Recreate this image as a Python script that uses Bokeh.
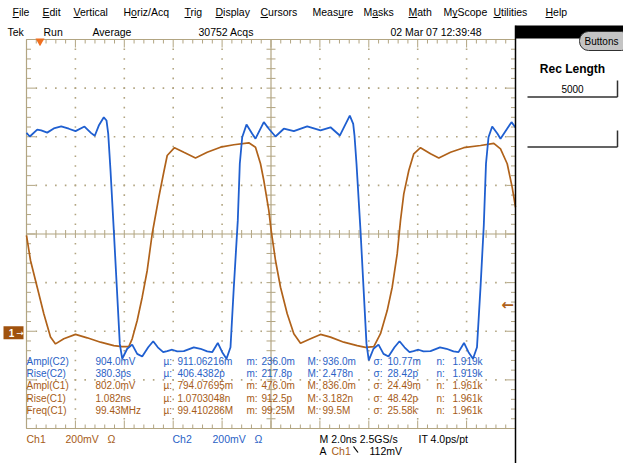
import numpy as np
from bokeh.plotting import figure
from bokeh.models import Range1d
from bokeh.core.properties import value
from bokeh.embed import file_html
from bokeh.resources import INLINE

# ---------------- data ----------------
# Channel 1 (orange) : time in ns, amplitude in mV
c1_time_ns = [-10.00, -9.836, -9.562, -9.292, -9.018, -8.814, -8.474, -7.996, -7.517, -6.973,
              -6.429, -6.086, -5.816, -5.677, -5.472, -5.268, -5.063, -4.859, -4.589, -4.384,
              -4.245, -3.947, -3.566, -3.088, -2.609, -2.065, -1.521, -0.908, -0.634, -0.429,
              -0.294, -0.090, 0.008, 0.184, 0.389, 0.663, 0.933, 1.207, 1.616, 2.025,
              2.434, 2.978, 3.526, 3.865, 4.205, 4.479, 4.753, 4.957, 5.162, 5.297,
              5.431, 5.636, 5.840, 6.115, 6.524, 6.863, 7.342, 7.885, 8.569, 9.112,
              9.387, 9.661, 9.865, 10.00]
c1_mv = [400, 297, 187, 78, -18, -46, -25, -7, -21, -39,
         -53, -57, -57, -25, 50, 146, 256, 407, 557, 661,
         729, 761, 742, 719, 742, 763, 773, 781, 763, 695,
         626, 503, 420, 297, 187, 78, -4, -43, -25, -7,
         -18, -39, -53, -60, -57, -4, 91, 187, 325, 462,
         571, 667, 736, 761, 736, 719, 742, 761, 770, 779,
         756, 695, 598, 516]

# Channel 2 (blue) : time in ns, amplitude in mV
c2_time_ns = [-10.00, -9.865, -9.562, -9.399, -9.153, -8.884, -8.581, -8.270, -7.996, -7.628,
              -7.354, -7.207, -7.043, -6.838, -6.728, -6.658, -6.564, -6.429, -6.306, -6.184,
              -6.086, -5.881, -5.677, -5.472, -5.268, -5.022, -4.818, -4.630, -4.409, -4.245,
              -4.041, -3.836, -3.566, -3.157, -2.883, -2.609, -2.405, -2.176, -1.996, -1.820,
              -1.656, -1.521, -1.358, -1.276, -1.178, -1.002, -0.769, -0.634, -0.294, -0.090,
              0.184, 0.524, 0.933, 1.481, 2.025, 2.434, 2.814, 3.018, 3.223, 3.362,
              3.415, 3.497, 3.661, 3.783, 3.906, 4.000, 4.192, 4.397, 4.601, 4.806,
              5.051, 5.256, 5.460, 5.665, 5.828, 6.033, 6.237, 6.524, 6.912, 7.178,
              7.464, 7.669, 7.894, 8.078, 8.262, 8.425, 8.569, 8.703, 8.793, 8.896,
              9.047, 9.264, 9.387, 9.836, 10.00]
c2_mv = [896, 881, 909, 906, 897, 914, 923, 913, 903, 922,
         895, 884, 926, 960, 947, 893, 741, 494, 261, 28,
         -33, 8, 25, -13, -24, 14, 39, 14, -6, -2,
         4, -3, -2, 14, 8, -3, -6, 32, -6, -33,
         14, 261, 536, 769, 878, 930, 892, 872, 940, 913,
         881, 913, 903, 923, 906, 919, 885, 926, 967, 933,
         885, 769, 494, 261, 28, -40, 8, 25, -13, -24,
         14, 39, 14, -6, -2, 4, -3, -2, 14, 8,
         -3, -6, 32, -6, -33, 14, 261, 515, 769, 878,
         922, 892, 872, 940, 918]

meas_names = ["Ampl(C2)", "Rise(C2)", "Ampl(C1)", "Rise(C1)", "Freq(C1)"]
meas_value = ["904.0mV", "380.3ps", "802.0mV", "1.082ns", "99.43MHz"]
meas_mean = ["911.06216m", "406.4382p", "794.07695m", "1.0703048n", "99.410286M"]
meas_min = ["236.0m", "217.8p", "476.0m", "912.5p", "99.25M"]
meas_max = ["936.0m", "2.478n", "836.0m", "3.182n", "99.5M"]
meas_sigma = ["10.77m", "28.42p", "24.49m", "48.42p", "25.58k"]
meas_count = ["1.919k", "1.919k", "1.961k", "1.961k", "1.961k"]
meas_source = ["C2", "C2", "C1", "C1", "C1"]

menu_items = ["File", "Edit", "Vertical", "Horiz/Acq", "Trig", "Display", "Cursors",
              "Measure", "Masks", "Math", "MyScope", "Utilities", "Help"]
menu_hotkey = [0, 0, 0, 1, 0, 0, 0, 4, 1, 0, 1, 0, 0]

# scope settings
TDIV_NS = 2.0
VDIV_MV = 200.0
C1_POS_DIV = -2.03
C2_POS_DIV = -2.40
TRIG_MV = 112.0

# ---------------- layout ----------------
W, H = 623, 463
X0PX, PX_PER_NS = 270.5, 24.45
Y0PX, PX_PER_DIV = 233.5, 48.625


def X(px):
    return (px - X0PX) / PX_PER_NS


def Y(py):
    return (Y0PX - py) / PX_PER_DIV


BLUE = "#1f5fd0"
BLUE_T = "#2a62c6"
ORANGE = "#b0621a"
ORANGE_T = "#a65b16"
GRAT = "#b2a582"
FONT = value("Liberation Sans")

p = figure(width=W, height=H, x_range=Range1d(X(0), X(W)), y_range=Range1d(Y(H), Y(0)),
           output_backend="svg", toolbar_location=None,
           x_axis_location=None, y_axis_location=None, min_border=0,
           outline_line_color=None, background_fill_color="white",
           border_fill_color="white")
p.grid.visible = False
p.extra_y_ranges = {
    "c1": Range1d((Y(H) - C1_POS_DIV) * VDIV_MV, (Y(0) - C1_POS_DIV) * VDIV_MV),
    "c2": Range1d((Y(H) - C2_POS_DIV) * VDIV_MV, (Y(0) - C2_POS_DIV) * VDIV_MV),
}

sx = 1.0 / PX_PER_NS
sy = 1.0 / PX_PER_DIV
XL, XR = -5 * TDIV_NS, 5 * TDIV_NS
YB, YT = -4.0, 4.0

# ---------------- graticule ----------------
min_x = np.round(np.arange(XL, XR + 1e-9, TDIV_NS / 5), 6)
min_y = np.round(np.arange(YB, YT + 1e-9, 0.2), 6)
maj_x_flag = np.isclose(np.mod(min_x, TDIV_NS), 0) | np.isclose(np.mod(min_x, TDIV_NS), TDIV_NS)
maj_y_flag = np.isclose(np.mod(min_y, 1.0), 0) | np.isclose(np.mod(min_y, 1.0), 1.0)

p.multi_line(xs=[[XL, XL], [XL, XR], [XL, XR], [0, 0], [XL, XR]],
             ys=[[YB, YT], [YT, YT], [YB, YB], [YB, YT], [0, 0]],
             line_color=GRAT, line_width=1.2)
# center cross ticks
p.segment(x0=min_x, y0=np.full(len(min_x), -4 * sy), x1=min_x, y1=np.full(len(min_x), 4 * sy),
          line_color=GRAT, line_width=1)
p.segment(x0=np.full(len(min_y), -4.5 * sx), y0=min_y, x1=np.full(len(min_y), 4.5 * sx), y1=min_y,
          line_color=GRAT, line_width=1)
# edge ticks
lx = np.where(maj_x_flag, 8, 4)
ly = np.where(maj_y_flag, 9, 4.5)
p.segment(x0=min_x, y0=np.full(len(min_x), YT), x1=min_x, y1=YT - lx * sy, line_color=GRAT, line_width=1)
p.segment(x0=min_x, y0=np.full(len(min_x), YB), x1=min_x, y1=YB + lx * sy, line_color=GRAT, line_width=1)
p.segment(x0=np.full(len(min_y), XL), y0=min_y, x1=XL + ly * sx, y1=min_y, line_color=GRAT, line_width=1)
p.segment(x0=np.full(len(min_y), XR), y0=min_y, x1=XR - ly * sx, y1=min_y, line_color=GRAT, line_width=1)
# dotted major grid lines
dx, dy = [], []
for gx in np.arange(XL + TDIV_NS, XR - 1e-9, TDIV_NS):
    if abs(gx) < 1e-9:
        continue
    for yy in min_y[1:-1]:
        if abs(yy) > 1e-9:
            dx.append(gx); dy.append(yy)
for gy in np.arange(YB + 1, YT - 1e-9, 1.0):
    if abs(gy) < 1e-9:
        continue
    for xx in min_x[1:-1]:
        if abs(xx) > 1e-9:
            dx.append(xx); dy.append(gy)
p.scatter(dx, dy, marker="square", size=1.6, fill_color=GRAT, line_color=None)

# ---------------- waveforms ----------------
p.line(c1_time_ns, c1_mv, y_range_name="c1", line_color=ORANGE, line_width=1.7)
p.line(c2_time_ns, c2_mv, y_range_name="c2", line_color=BLUE, line_width=1.8)


def txt(px, py, s, color="black", size=10, style="normal", align="left"):
    p.text(x=[X(px)], y=[Y(py)], text=[s], text_color=color, text_font=FONT,
           text_font_size=f"{size}px", text_font_style=style, text_align=align,
           text_baseline="middle")


# ---------------- measurement table ----------------
row_y = [360.7, 373.0, 385.4, 397.8, 410.4]
for i in range(5):
    col = BLUE_T if meas_source[i] == "C2" else ORANGE_T
    yy = row_y[i]
    txt(26, yy, meas_names[i], col)
    txt(95, yy, meas_value[i], col)
    txt(163, yy, "\u00b5:", col)
    txt(177, yy, meas_mean[i], col)
    txt(246, yy, "m:", col)
    txt(261, yy, meas_min[i], col)
    txt(307, yy, "M:", col)
    txt(322, yy, meas_max[i], col)
    txt(373, yy, "\u03c3:", col)
    txt(387, yy, meas_sigma[i], col)
    txt(436, yy, "n:", col)
    txt(452, yy, meas_count[i], col)

# ---------------- markers ----------------
# channel 1 ground marker (drawn at 0 mV of channel 1)
half_mv = 6.5 * sy * VDIV_MV
p.quad(left=[X(3)], right=[X(23)], bottom=[-half_mv], top=[half_mv], y_range_name="c1",
       fill_color="#a0520e", line_color=None)
p.text(x=[X(11)], y=[0], y_range_name="c1", text=["1"], text_color="white",
       text_font=FONT, text_font_size="10px", text_font_style="bold",
       text_align="center", text_baseline="middle")
p.text(x=[X(19.5)], y=[0], y_range_name="c1", text=["\u2192"], text_color="white",
       text_font=value("DejaVu Sans"), text_font_size="9px", text_align="center",
       text_baseline="middle")
# trigger level arrow (right side)
p.text(x=[X(507)], y=[TRIG_MV], y_range_name="c1", text=["\u2190"], text_color=ORANGE,
       text_font=value("DejaVu Sans"), text_font_size="15px", text_font_style="bold",
       text_align="center", text_baseline="middle")
# trigger position marker (top)
p.scatter([X(39.5)], [Y(40.5)], marker="inverted_triangle", size=9,
          fill_color="#f07020", line_color=None)

# ---------------- menu & status ----------------
menu_x = [12, 42, 73, 123, 184, 215, 260, 312, 363, 408, 443, 493, 545]
cw = {"F": .611, "E": .667, "V": .667, "H": .722, "o": .556, "T": .611, "D": .722,
      "C": .722, "M": .833, "e": .556, "a": .556, "s": .5, "y": .5, "U": .722}
MS = 10.5
ux0, ux1, uy = [], [], []
for name, mx, k in zip(menu_items, menu_x, menu_hotkey):
    txt(mx, 11, name, "black", MS)
    off = sum(cw.get(c, .55) for c in name[:k]) * MS
    w = cw.get(name[k], .55) * MS
    ux0.append(X(mx + off)); ux1.append(X(mx + off + w)); uy.append(Y(17))
p.segment(x0=ux0, y0=uy, x1=ux1, y1=uy, line_color="black", line_width=1)

txt(7, 31, "Tek", "black", MS)
txt(43, 31, "Run", "black", MS)
txt(92, 31, "Average", "black", MS)
txt(198, 31, "30752 Acqs", "black", MS)
txt(390, 31, "02 Mar 07 12:39:48", "black", MS)

# bottom channel readouts
txt(26, 438, "Ch1", ORANGE_T, MS)
txt(65, 438, "200mV", ORANGE_T, MS)
txt(107, 438, "\u03a9", ORANGE_T, MS)
txt(172, 438, "Ch2", BLUE_T, MS)
txt(212, 438, "200mV", BLUE_T, MS)
txt(254, 438, "\u03a9", BLUE_T, MS)
txt(319, 438, "M 2.0ns 2.5GS/s", "black", MS)
txt(418, 438, "IT 4.0ps/pt", "black", MS)
txt(319, 450, "A", "black", MS)
txt(331, 450, "Ch1", ORANGE_T, MS)
p.segment(x0=[X(353)], y0=[Y(446)], x1=[X(357.5)], y1=[Y(452)], line_color="black", line_width=1.2)
txt(369, 450, "112mV", "black", MS)

# ---------------- right-hand panel ----------------
p.quad(left=[X(515)], right=[X(W)], bottom=[Y(38)], top=[Y(25)], fill_color="black", line_color=None)
p.segment(x0=[X(515)], y0=[Y(25)], x1=[X(515)], y1=[Y(H)], line_color="black", line_width=1.5)
p.quad(left=[X(579)], right=[X(630)], bottom=[Y(50)], top=[Y(31)], border_radius=9,
       fill_color="#c4c4c4", line_color="#303030", line_width=1)
txt(601, 40.5, "Buttons", "black", 10, "normal", "center")
txt(572, 68, "Rec Length", "black", 12, "bold", "center")
txt(572, 88, "5000", "black", 10, "normal", "center")
p.multi_line(xs=[[X(527), X(617)], [X(617), X(617)], [X(527), X(617)], [X(617), X(617)]],
             ys=[[Y(96.5), Y(96.5)], [Y(80), Y(96.5)], [Y(146.5), Y(146.5)], [Y(130), Y(146.5)]],
             line_color="#303030", line_width=1.5)

html = file_html(p, INLINE, title="Tek scope")
html = html.replace("</head>", "<style>html,body{margin:0;padding:0;overflow:hidden;}</style></head>", 1)
open("out.html", "w").write(html)
